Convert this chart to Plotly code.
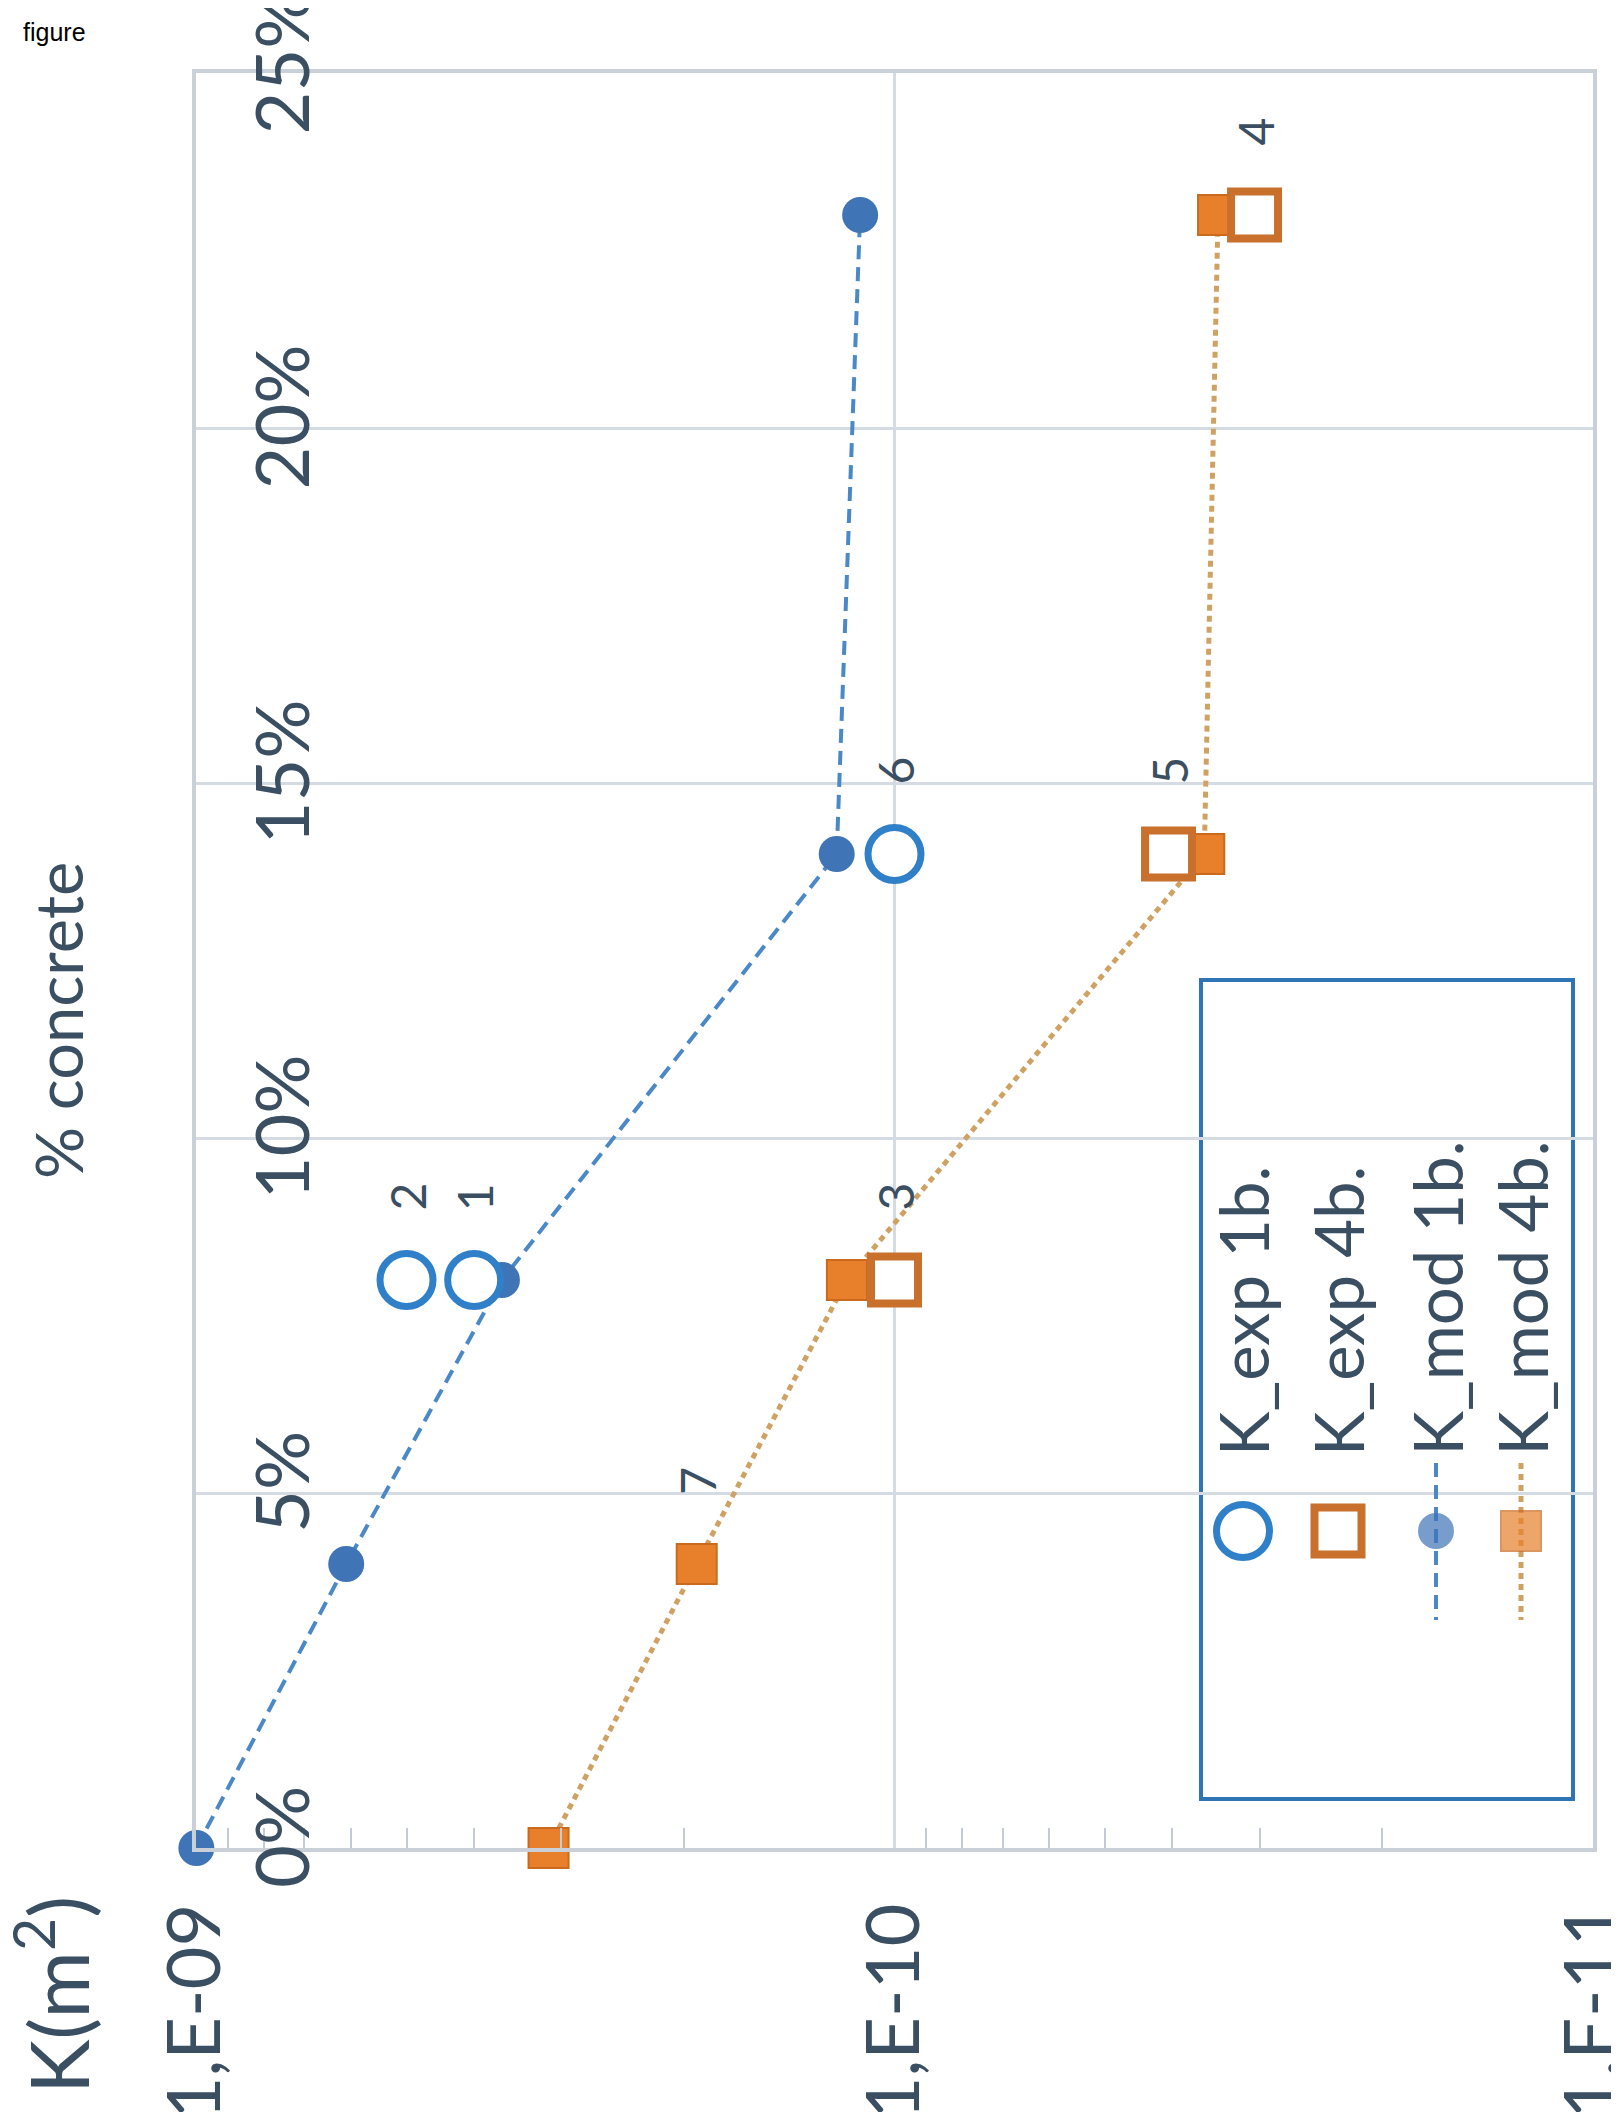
import numpy as np
import plotly.graph_objects as go

# ---------------- data ----------------
pct = [0.0, 0.04, 0.08, 0.14, 0.23]
k_mod_1b = [1.0e-9, 6.1e-10, 3.65e-10, 1.21e-10, 1.12e-10]
k_mod_4b = [3.13e-10, 1.92e-10, 1.17e-10, 3.6e-11, 3.44e-11]
mod_4b_labels = ["", "7", "", "", ""]

pct_exp_1b = [0.08, 0.08, 0.14]
k_exp_1b = [4.0e-10, 5.0e-10, 1.0e-10]
exp_1b_labels = ["1", "2", "6"]

pct_exp_4b = [0.08, 0.14, 0.23]
k_exp_4b = [1.0e-10, 4.05e-11, 3.05e-11]
exp_4b_labels = ["3", "5", "4"]

k_ticks = [1e-9, 1e-10, 1e-11]
k_tick_text = ["1,E-09", "1,E-10", "1,E-11"]
pct_ticks = [0.0, 0.05, 0.10, 0.15, 0.20, 0.25]
pct_tick_text = ["0%", "5%", "10%", "15%", "20%", "25%"]
series_names = ["K_exp 1b.", "K_exp 4b.", "K_mod 1b.", "K_mod 4b."]

# ---------------- layout geometry (pixels) ----------------
W, H = 1619, 2112
L, R, T, B = 188, 1585, 65, 1840


def px(x):
    return (x - L) / (R - L)


def py(y):
    return (B - y) / (B - T)


TXT = "#3b4f62"
FONT = "Lato"
BLUE_LINE = "#4a88c8"
BLUE_FILL = "#3f74b6"
BLUE_OPEN = "#2f80c8"
OR_FILL = "#e8802b"
OR_EDGE = "#c96a1e"
OR_OPEN = "#c8702c"
OR_LINE = "#cfa263"

mod1_line = dict(color=BLUE_LINE, width=4, dash="14px,8px")
mod4_line = dict(color=OR_LINE, width=5, dash="6px,5px")
mod1_marker = dict(symbol="circle", size=36, color=BLUE_FILL, line=dict(width=0))
mod4_marker = dict(symbol="square", size=40, color=OR_FILL, line=dict(color=OR_EDGE, width=2))
exp1_marker = dict(symbol="circle", size=53, color="white", line=dict(color=BLUE_OPEN, width=7))
exp4_marker = dict(symbol="square", size=47, color="white", line=dict(color=OR_OPEN, width=8))

fig = go.Figure()

fig.add_trace(go.Scatter(x=k_mod_1b, y=pct, mode="lines+markers", name=series_names[2],
                         line=mod1_line, marker=mod1_marker, showlegend=False, cliponaxis=False))
fig.add_trace(go.Scatter(x=k_mod_4b, y=pct, mode="lines+markers", name=series_names[3],
                         line=mod4_line, marker=mod4_marker, showlegend=False, cliponaxis=False))
fig.add_trace(go.Scatter(x=k_exp_1b, y=pct_exp_1b, mode="markers", name=series_names[0],
                         marker=exp1_marker, showlegend=False, cliponaxis=False))
fig.add_trace(go.Scatter(x=k_exp_4b, y=pct_exp_4b, mode="markers", name=series_names[1],
                         marker=exp4_marker, showlegend=False, cliponaxis=False))

# point labels (rotated like the rest of the chart)
annotations = []
for xs, ys, labs in [(k_exp_1b, pct_exp_1b, exp_1b_labels),
                     (k_exp_4b, pct_exp_4b, exp_4b_labels),
                     (k_mod_4b, pct, mod_4b_labels)]:
    for xv, yv, lb in zip(xs, ys, labs):
        if lb:
            annotations.append(dict(x=float(np.log10(xv)), y=yv, xref="x", yref="y", text=lb,
                                    showarrow=False, textangle=-90, yshift=83,
                                    font=dict(family=FONT, size=48, color=TXT)))

# ---------------- manual (rotated) legend ----------------
leg_x = [1235, 1330, 1428, 1513]
leg_marker_y = 1523
shapes = [dict(type="rect", xref="paper", yref="paper",
               x0=px(1193), x1=px(1565), y0=py(1791), y1=py(972),
               line=dict(color="#2e75b6", width=4), fillcolor="white", layer="between")]

fig.add_trace(go.Scatter(x=[px(leg_x[0])], y=[py(leg_marker_y)], mode="markers",
                         marker=exp1_marker, xaxis="x2", yaxis="y2", showlegend=False, hoverinfo="skip"))
fig.add_trace(go.Scatter(x=[px(leg_x[1])], y=[py(leg_marker_y)], mode="markers",
                         marker=exp4_marker, xaxis="x2", yaxis="y2", showlegend=False, hoverinfo="skip"))
for xi, ln, mk in [(leg_x[2], mod1_line, mod1_marker), (leg_x[3], mod4_line, mod4_marker)]:
    m = dict(mk)
    m["size"] = [0, mk["size"], 0]
    fig.add_trace(go.Scatter(x=[px(xi)] * 3, y=[py(1455), py(leg_marker_y), py(1612)],
                             mode="lines+markers", line=ln, marker=m,
                             xaxis="x2", yaxis="y2", showlegend=False, hoverinfo="skip"))

for xi, nm in zip(leg_x, series_names):
    annotations.append(dict(x=px(xi), y=py(1450), xref="paper", yref="paper", text=nm,
                            showarrow=False, textangle=-90, xanchor="center", yanchor="bottom",
                            font=dict(family=FONT, size=67, color=TXT)))

# axis titles and caption
annotations.append(dict(x=px(50), y=py(1013), xref="paper", yref="paper", text="% concrete",
                        showarrow=False, textangle=-90, xanchor="center", yanchor="middle",
                        font=dict(family=FONT, size=65, color=TXT)))
annotations.append(dict(x=px(44), y=py(1886), xref="paper", yref="paper", text="K(m<sup>2</sup>)",
                        showarrow=False, textangle=-90, xanchor="center", yanchor="top",
                        font=dict(family=FONT, size=82, color=TXT)))
annotations.append(dict(x=px(13), y=py(8), xref="paper", yref="paper", text="figure",
                        showarrow=False, xanchor="left", yanchor="top",
                        font=dict(family="Liberation Sans", size=25, color="black")))

minor_vals = [m * 10.0 ** e for e in (-11, -10) for m in range(2, 10)]
GRID = "#d5dbe2"
FRAME = "#c9d0d8"
tickfont = dict(family=FONT, size=74, color=TXT)

fig.update_layout(
    width=W, height=H, autosize=False,
    margin=dict(l=L, r=W - R, t=T, b=H - B, pad=0, autoexpand=False),
    paper_bgcolor="white", plot_bgcolor="white",
    font=dict(family=FONT, color=TXT),
    shapes=shapes, annotations=annotations,
    xaxis=dict(type="log", range=[-8.9995, -11.0005], tickmode="array", tickvals=k_ticks,
               ticktext=k_tick_text, tickangle=-90, tickfont=tickfont,
               ticks="", ticklabelstandoff=22, ticklabeloverflow="allow", automargin=False,
               showgrid=True, gridcolor=GRID, gridwidth=3,
               showline=True, linecolor=FRAME, linewidth=4, mirror=True, zeroline=False,
               minor=dict(tickmode="array", tickvals=minor_vals, ticks="inside", ticklen=20,
                          tickwidth=2, tickcolor="#c3ccd6", showgrid=False)),
    yaxis=dict(range=[0, 0.25], tickmode="array", tickvals=pct_ticks, showticklabels=False,
               ticks="", automargin=False,
               showgrid=True, gridcolor=GRID, gridwidth=3,
               showline=True, linecolor=FRAME, linewidth=4, mirror=True, zeroline=False),
    yaxis3=dict(range=[0, 0.25], tickmode="array", tickvals=pct_ticks, ticktext=pct_tick_text,
                tickangle=-90, tickfont=tickfont, overlaying="y", anchor="free", position=0,
                side="right", ticks="", ticklabelstandoff=38, ticklabeloverflow="allow",
                automargin=False, showgrid=False, showline=False, zeroline=False),
    xaxis2=dict(domain=[0, 1], range=[0, 1], visible=False, overlaying="x", anchor="y2"),
    yaxis2=dict(domain=[0, 1], range=[0, 1], visible=False, overlaying="y", anchor="x2"),
)
# dummy trace so the tick-label axis is drawn
fig.add_trace(go.Scatter(x=[None], y=[None], yaxis="y3", showlegend=False, hoverinfo="skip"))

fig.write_html("out.html")
